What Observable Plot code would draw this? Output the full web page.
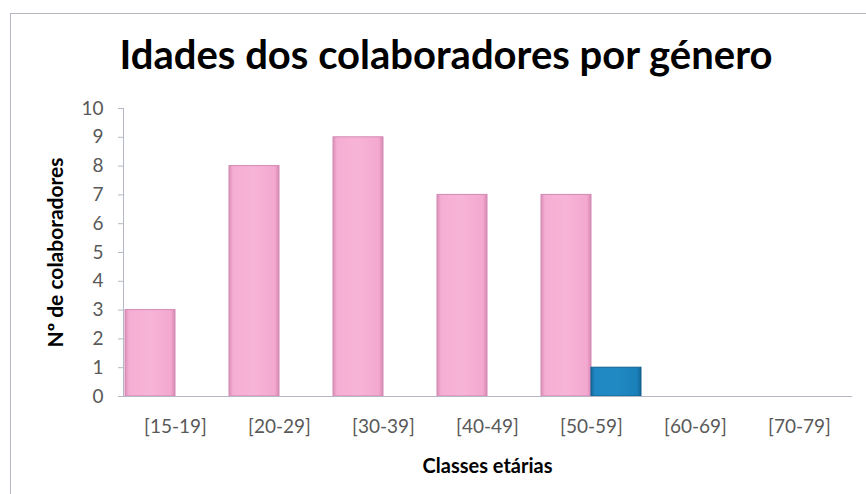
<!DOCTYPE html>
<html>
<head>
<meta charset="utf-8">
<script src="https://cdn.jsdelivr.net/npm/d3@7"></script>
<script src="https://cdn.jsdelivr.net/npm/@observablehq/plot@0.6"></script>
<style>
  html, body { margin: 0; padding: 0; background: #fff; }
  #wrap { position: relative; width: 866px; height: 494px; overflow: hidden; background: #fff; }
  #frame { position: absolute; left: 10px; top: 13px; width: 900px; height: 520px;
           border-top: 1px solid #b4b7c0; border-left: 1px solid #b4b7c0; }
  #title { position: absolute; left: 0; width: 892px; top: 30px; text-align: center;
           font-family: Lato, sans-serif; font-weight: bold; font-size: 40px; color: #000;
           line-height: 48px; z-index: 2; }
  #chart { position: absolute; left: 0; top: 0; }
  #chart svg [aria-label="y-axis label"] text,
  #chart svg [aria-label="fx-axis label"] text { font-weight: bold; fill: #000; }
  #chart svg [aria-label="y-axis label"] text { font-size: 21px; }
  #chart svg [aria-label="fx-axis label"] text { font-size: 20px; }
</style>
</head>
<body>
<div id="wrap">
  <div id="frame"></div>
  <div id="title">Idades dos colaboradores por género</div>
  <div id="chart"></div>
</div>
<script>
const classes = ["[15-19]", "[20-29]", "[30-39]", "[40-49]", "[50-59]", "[60-69]", "[70-79]"];
const generos = ["Feminino", "Masculino"];
const feminino = [3, 8, 9, 7, 7, 0, 0];
const masculino = [0, 0, 0, 0, 1, 0, 0];
const yTicks = [0, 1, 2, 3, 4, 5, 6, 7, 8, 9, 10];

const rowsF = classes.map((c, i) => ({classe: c, genero: generos[0], n: feminino[i]}));
const rowsM = classes.map((c, i) => ({classe: c, genero: generos[1], n: masculino[i]}));

const chart = Plot.plot({
  width: 866,
  height: 494,
  marginTop: 108,
  marginBottom: 98,
  marginLeft: 122,
  marginRight: 14,
  style: {fontFamily: "Lato, sans-serif", background: "transparent", overflow: "visible"},
  fx: {domain: classes, padding: 0},
  x: {domain: generos, paddingInner: 0, paddingOuter: 0.02, axis: null},
  y: {domain: [0, 10]},
  marks: [
    Plot.axisY({ticks: yTicks, tickSize: 5, tickPadding: 15, fontSize: 19, color: "#595959",
                stroke: "#b4b8c6", label: "Nº de colaboradores", labelAnchor: "center",
                labelArrow: "none", labelOffset: 75}),
    Plot.axisFx({anchor: "bottom", tickSize: 0, tickPadding: 23, fontSize: 19, color: "#595959",
                 label: "Classes etárias", labelAnchor: "center", labelArrow: "none", labelOffset: 76}),
    Plot.barY(rowsF, {fx: "classe", x: "genero", y: "n", filter: d => d.n > 0,
                      fill: "url(#gradF)", stroke: "#d389b2", strokeWidth: 1, inset: 0}),
    Plot.barY(rowsM, {fx: "classe", x: "genero", y: "n", filter: d => d.n > 0,
                      fill: "url(#gradM)", stroke: "#11618f", strokeWidth: 1, inset: 0}),
    Plot.frame({anchor: "left", facet: "super", stroke: "#b4b8c6"}),
    Plot.frame({anchor: "bottom", facet: "super", stroke: "#b4b8c6"})
  ]
});

const defs = `
<defs>
  <linearGradient id="gradF" x1="0" y1="0" x2="1" y2="0">
    <stop offset="0%" stop-color="#dc8fba"/>
    <stop offset="8%" stop-color="#f5aed3"/>
    <stop offset="50%" stop-color="#f7b4d7"/>
    <stop offset="92%" stop-color="#f3a8cf"/>
    <stop offset="100%" stop-color="#d687b2"/>
  </linearGradient>
  <linearGradient id="gradM" x1="0" y1="0" x2="1" y2="0">
    <stop offset="0%" stop-color="#15699c"/>
    <stop offset="8%" stop-color="#1f88c2"/>
    <stop offset="50%" stop-color="#2189c3"/>
    <stop offset="92%" stop-color="#1b80ba"/>
    <stop offset="100%" stop-color="#136495"/>
  </linearGradient>
</defs>`;
chart.insertAdjacentHTML("afterbegin", defs);
document.getElementById("chart").appendChild(chart);
</script>
</body>
</html>
